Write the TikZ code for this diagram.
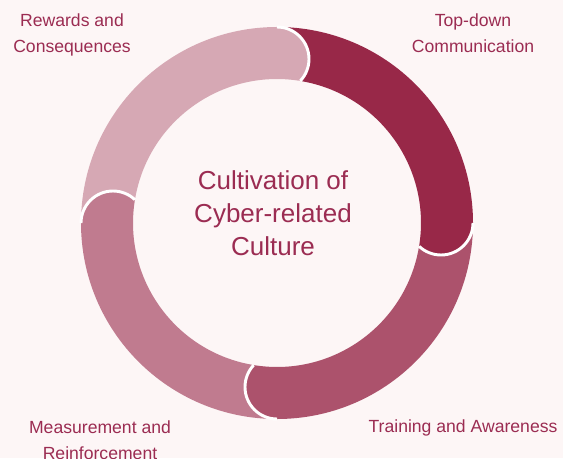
\documentclass[tikz,border=0pt]{standalone}
\usepackage{fontspec}
\setmainfont{Liberation Sans}
\definecolor{bg}{HTML}{FDF6F6}
\definecolor{txt}{HTML}{9B2C52}
\definecolor{segA}{HTML}{982848}
\definecolor{segB}{HTML}{AC526C}
\definecolor{segC}{HTML}{C07B8F}
\definecolor{segD}{HTML}{D6A8B4}
% segment from angle #1 clockwise to angle #2
\newcommand\ringseg[3]{%
  \fill[#3] (#1:196) arc[start angle=#1, end angle=#2, radius=196]
    arc[start angle=#2, end angle=#2-133.25, radius=32]
    arc[start angle=#2-9.3, end angle=#1-9.3, radius=144]
    arc[start angle=#1-133.25, end angle=#1, radius=32] -- cycle;}
\newcommand\ringcap[1]{%
  \draw[white, line width=2.2pt] (#1:196) arc[start angle=#1, end angle=#1-133.25, radius=32];}
\begin{document}
\begin{tikzpicture}[x=0.75pt,y=0.75pt,
  labeltext/.style={text=txt, font=\fontsize{13.2}{19.5}\selectfont, align=center, anchor=base, inner sep=0pt},
  centertext/.style={text=txt, font=\fontsize{19.5}{24.4}\selectfont, align=center, anchor=base, inner sep=0pt}]
\fill[bg] (0,0) rectangle (563,458);
\useasboundingbox (0,0) rectangle (563,458);
\begin{scope}[shift={(277,235)}]
  \ringseg{90}{0}{segA}
  \ringseg{0}{-90}{segB}
  \ringseg{-90}{-180}{segC}
  \ringseg{180}{90}{segD}
  \ringcap{0}
  \ringcap{-90}
  \ringcap{-180}
  \ringcap{90}
\end{scope}
\node[centertext] (center) at (273,203) {Cultivation of\\Cyber-related\\Culture};
\node[labeltext] (rew) at (72,405) {Rewards and\\Consequences};
\node[labeltext] (top) at (473,405) {Top-down\\Communication};
\node[labeltext] (mea) at (100,-1) {Measurement and\\Reinforcement};
\node[labeltext] (tra) at (463,26) {Training and Awareness};
\end{tikzpicture}
\end{document}
